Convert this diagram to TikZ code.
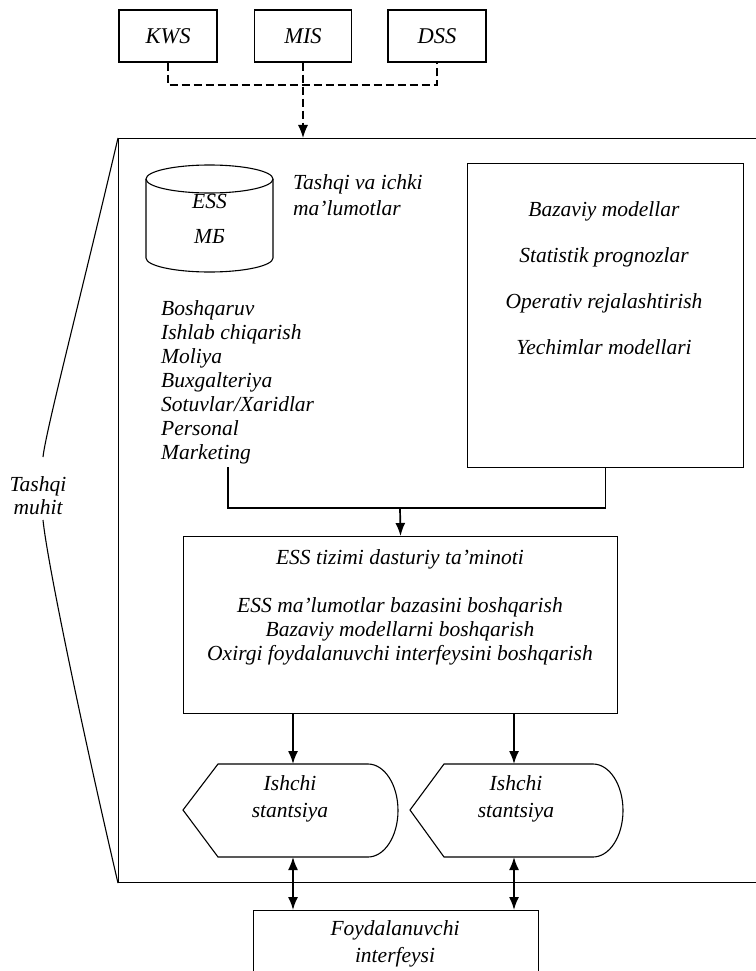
\documentclass[tikz,border=0pt]{standalone}
\usepackage{fontspec}
\setmainfont{Liberation Serif}
\usetikzlibrary{arrows.meta}
\begin{document}
\begin{tikzpicture}[x=1pt,y=-1pt,
  txt/.style={font=\itshape\fontsize{21.5}{24}\selectfont, inner sep=0pt, align=center},
  box/.style={draw, line width=1.1pt, inner sep=0pt},
  ln/.style={line width=1.1pt},
  arr/.style={line width=1.7pt, -{Latex[length=13pt,width=10pt]}},
  darr/.style={line width=1.7pt, {Latex[length=13pt,width=10pt]}-{Latex[length=13pt,width=10pt]}},
  dsh/.style={line width=1.3pt, dash pattern=on 8pt off 4pt},
]
\useasboundingbox (0,0) rectangle (755,971);

% top boxes
\node[box, txt, font=\itshape\fontsize{22.5}{24}\selectfont, minimum width=98pt, minimum height=52pt] (kws) at (168,36) {KWS};
\node[box, txt, font=\itshape\fontsize{22.5}{24}\selectfont, minimum width=97pt, minimum height=52pt] (mis) at (303,36) {MIS};
\node[box, txt, font=\itshape\fontsize{22.5}{24}\selectfont, minimum width=98pt, minimum height=52pt] (dss) at (437,36) {DSS};

% main frame
\node[box, minimum width=640pt, minimum height=744pt, anchor=north west] (main) at (118,138) {};

% dashed links
\coordinate (dj) at (303,85);
\draw[dsh] (kws.south) |- (dj) -| (dss.south);
\draw[dsh, -{Latex[length=13pt,width=10pt]}] (mis.south) -- (mis.south |- main.north);

% external environment
\node[txt, font=\itshape\fontsize{21.5}{23}\selectfont] (tm) at (38,496) {Tashqi\\muhit};
\coordinate (tmu) at (43,457);
\coordinate (tml) at (43,520);
\draw[ln] (main.north west) .. controls (80,300) and (46,430) .. (tmu);
\draw[ln] (tml) .. controls (47,560) and (80,720) .. (main.south west);

% database cylinder
\draw[ln] (146,179) -- (146,258) arc[start angle=180, end angle=0, x radius=63.5, y radius=14] -- (273,179);
\draw[ln] (209.5,179) ellipse [x radius=63.5, y radius=14];
\node[txt, font=\itshape\fontsize{21.5}{35}\selectfont] (db) at (209.5,219) {ESS\\МБ};

\node[txt, align=left, anchor=north west, font=\itshape\fontsize{21.5}{26}\selectfont] (ext) at (293,174) {Tashqi va ichki\\ma'lumotlar};

\node[txt, align=left, anchor=north west] (list) at (161,300)
  {Boshqaruv\\Ishlab chiqarish\\Moliya\\Buxgalteriya\\Sotuvlar/Xaridlar\\Personal\\Marketing};

% models box
\node[box, minimum width=276pt, minimum height=304pt, anchor=north west] (rb) at (467,163) {};
\node[txt, font=\itshape\fontsize{21.5}{46}\selectfont] (rbt) at (604,278)
  {Bazaviy modellar\\Statistik prognozlar\\Operativ rejalashtirish\\Yechimlar modellari};

% software box
\node[box, minimum width=434pt, minimum height=177pt, anchor=north west] (ess) at (183,536) {};
\node[txt] (esst) at (400,607)
  {ESS tizimi dasturiy ta'minoti\\[24pt]ESS ma'lumotlar bazasini boshqarish\\Bazaviy modellarni boshqarish\\Oxirgi foydalanuvchi interfeysini boshqarish};

% connectors to software box
\coordinate (mk) at (228,467);
\coordinate (jn) at (400,508);
\draw[ln] (mk) |- (jn) -| (rb.south);
\draw[arr] (jn) -- (ess.north);

% workstations
\draw[ln] (183,810) -- (218,764) -- (368,764) arc[start angle=-90, end angle=90, x radius=30, y radius=46.5] -- (218,857) -- cycle;
\draw[ln] (410,810) -- (444,764) -- (593,764) arc[start angle=-90, end angle=90, x radius=30, y radius=46.5] -- (444,857) -- cycle;
\node[txt, font=\itshape\fontsize{21.5}{27}\selectfont] (ws1) at (290,799) {Ishchi\\stantsiya};
\node[txt, font=\itshape\fontsize{21.5}{27}\selectfont] (ws2) at (516,799) {Ishchi\\stantsiya};
\coordinate (w1t) at (293,764);
\coordinate (w1b) at (293,857);
\coordinate (w2t) at (514,764);
\coordinate (w2b) at (514,857);

% user interface box
\node[box, minimum width=285pt, minimum height=80pt, anchor=north west] (fi) at (253,910) {};
\node[txt, font=\itshape\fontsize{21.5}{27}\selectfont] (fit) at (395,944) {Foydalanuvchi\\interfeysi};

\draw[arr] (ess.south -| w1t) -- (w1t);
\draw[arr] (ess.south -| w2t) -- (w2t);
\draw[darr] (w1b) -- (w1b |- fi.north);
\draw[darr] (w2b) -- (w2b |- fi.north);
\end{tikzpicture}
\end{document}
